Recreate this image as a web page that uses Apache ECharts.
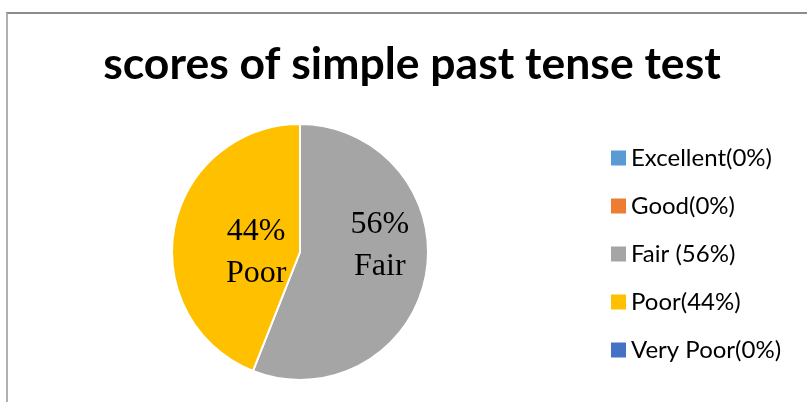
<!DOCTYPE html>
<html>
<head>
<meta charset="utf-8">
<script src="https://cdn.jsdelivr.net/npm/echarts@6/dist/echarts.min.js"></script>
<style>
html,body{margin:0;padding:0;background:#fff;}
#frame{position:absolute;left:6px;top:12px;width:801px;height:390px;border-top:2px solid #8c8c8c;border-left:2px solid #b0b0b0;}
#chart{position:absolute;left:0;top:0;width:807px;height:402px;}
</style>
</head>
<body>
<div id="frame"></div>
<div id="chart"></div>
<script>
var categories = ['Excellent(0%)', 'Good(0%)', 'Fair (56%)', 'Poor(44%)', 'Very Poor(0%)'];
var values = [0, 0, 56, 44, 0];
var sliceLabels = ['', '', '56%\nFair', '44%\nPoor', ''];
var colors = ['#5b9bd5', '#ed7d31', '#a5a5a5', '#ffc000', '#4472c4'];
var labelOffsets = [[14,-19],[0,0],[14,-19],[22,13],[0,0]];

var chart = echarts.init(document.getElementById('chart'));
var data = categories.map(function (c, i) {
  return {
    name: c,
    value: values[i],
    itemStyle: { color: colors[i] },
    label: {
      show: values[i] > 0,
      formatter: sliceLabels[i],
      offset: labelOffsets[i]
    }
  };
});
chart.setOption({
  animation: false,
  title: {
    text: 'scores of simple past tense test',
    left: 407, textAlign: 'center', top: 37,
    textStyle: { fontFamily: 'Lato', fontWeight: 'bold', fontSize: 44.5, color: '#000' }
  },
  legend: {
    orient: 'vertical',
    left: 606, top: 141,
    itemWidth: 15, itemHeight: 15, itemGap: 24,
    icon: 'rect',
    itemStyle: { borderWidth: 0 },
    textStyle: { fontFamily: 'Lato', fontSize: 24, color: '#000' },
    data: categories
  },
  series: [{
    type: 'pie',
    center: [300, 252],
    radius: 128,
    startAngle: 90,
    clockwise: true,
    silent: true,
    itemStyle: { borderColor: '#fff', borderWidth: 2 },
    label: {
      position: 'inside',
      fontFamily: 'Liberation Serif',
      fontSize: 32,
      lineHeight: 42,
      color: '#000'
    },
    labelLine: { show: false },
    data: data
  }]
});
</script>
</body>
</html>
